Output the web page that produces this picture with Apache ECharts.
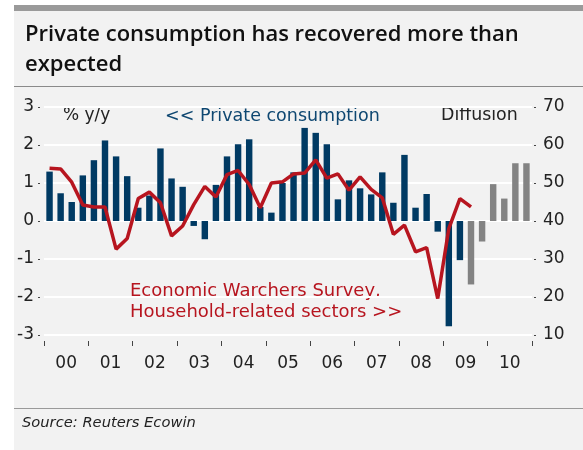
<!DOCTYPE html>
<html>
<head>
<meta charset="utf-8">
<script src="https://cdn.jsdelivr.net/npm/echarts@6/dist/echarts.min.js"></script>
<style>
  html, body { margin: 0; padding: 0; background: #fff; }
  #chart { width: 583px; height: 450px; }
</style>
</head>
<body>
<div id="chart"></div>
<script>
// quarters 2000Q1 .. 2010Q4
var quarters = [];
for (var y = 2000; y <= 2010; y++) {
  for (var q = 1; q <= 4; q++) quarters.push(y + 'Q' + q);
}
var yearLabels = ['00', '01', '02', '03', '04', '05', '06', '07', '08', '09', '10'];

// private consumption, % y/y (last six quarters are forecasts, grey)
var consumption = [
  1.30, 0.73, 0.50, 1.20, 1.60, 2.12, 1.70, 1.18,
  0.35, 0.67, 1.91, 1.12, 0.90, -0.13, -0.48, 0.95,
  1.70, 2.02, 2.15, 0.37, 0.22, 1.00, 1.28, 2.45,
  2.32, 2.02, 0.57, 1.07, 0.86, 0.70, 1.28, 0.48,
  1.74, 0.35, 0.71, -0.28, -2.77, -1.03, -1.67, -0.54,
  0.97, 0.59, 1.52, 1.52
];
var forecastFrom = 38;

// Economic Watchers Survey, household-related sectors (diffusion index)
var watchers = [
  53.9, 53.7, 50.2, 44.2, 43.7, 43.7, 32.6, 35.4,
  45.9, 47.6, 44.8, 36.1, 38.7, 44.3, 49.1, 46.3,
  52.2, 53.3, 49.6, 43.5, 50.0, 50.3, 52.4, 52.6,
  56.1, 51.3, 52.4, 48.1, 51.6, 48.3, 46.1, 36.5,
  38.9, 31.9, 33.0, 19.6, 38.0, 45.9, 43.7
];

var chart = echarts.init(document.getElementById('chart'));

var txt = '#222';
var fam = 'DejaVu Sans';
chart.setOption({
  animation: false,
  backgroundColor: '#fff',
  grid: { left: 44, right: 51, top: 107, bottom: 115 },
  xAxis: [
    {
      type: 'category',
      data: quarters,
      position: 'bottom',
      axisLine: { show: false },
      axisTick: { show: false },
      axisLabel: { show: false }
    },
    {
      type: 'category',
      data: yearLabels,
      position: 'bottom',
      offset: 6,
      boundaryGap: true,
      axisLine: { show: false },
      axisTick: { show: true, length: 5, lineStyle: { color: '#444', width: 1 } },
      axisLabel: { color: txt, fontSize: 17, fontFamily: fam, margin: 14 }
    }
  ],
  yAxis: [
    {
      type: 'value',
      min: -3, max: 3, interval: 1,
      position: 'left',
      offset: 4,
      axisLine: { show: false },
      axisTick: { show: true, length: 2, lineStyle: { color: '#444' } },
      axisLabel: { color: txt, fontSize: 17, fontFamily: fam, margin: 6 },
      splitLine: { lineStyle: { color: '#ffffff', width: 2 } }
    },
    {
      type: 'value',
      min: 10, max: 70, interval: 10,
      position: 'right',
      offset: 2,
      axisLine: { show: false },
      axisTick: { show: true, length: 2, lineStyle: { color: '#444' } },
      axisLabel: { color: txt, fontSize: 17, fontFamily: fam, margin: 9 },
      splitLine: { show: false }
    }
  ],
  series: [
    {
      type: 'bar',
      data: consumption,
      barWidth: '58%',
      itemStyle: {
        color: function (p) { return p.dataIndex >= forecastFrom ? '#838383' : '#003a63'; }
      }
    },
    {
      type: 'line',
      yAxisIndex: 1,
      data: watchers,
      symbol: 'none',
      lineStyle: { color: '#b7151f', width: 3.5 },
      z: 5
    }
  ],
  graphic: [
    { type: 'rect', z: -10, shape: { x: 14, y: 5, width: 569, height: 445 }, style: { fill: '#f2f2f2' } },
    { type: 'rect', z: -9, shape: { x: 14, y: 5, width: 569, height: 6 }, style: { fill: '#9a9a9a' } },
    { type: 'rect', z: -9, shape: { x: 14, y: 86, width: 569, height: 1 }, style: { fill: '#8a8a8a' } },
    { type: 'rect', z: -9, shape: { x: 14, y: 408, width: 569, height: 1 }, style: { fill: '#9a9a9a' } },
    { type: 'text', left: 25, top: 20, style: { text: 'Private consumption has recovered more than\nexpected', fill: '#111', font: '600 22px "Open Sans"', lineHeight: 30 } },
    { type: 'text', left: 63, top: 107, style: { text: '% y/y', fill: txt, font: '17px "DejaVu Sans"' } },
    { type: 'text', left: 165, top: 107, style: { text: '<< Private consumption', fill: '#0e4771', font: '17.5px "DejaVu Sans"' } },
    { type: 'text', left: 441, top: 107, style: { text: 'Diffusion', fill: txt, font: '17.4px "DejaVu Sans"' } },
    { type: 'text', left: 130, top: 281, style: { text: 'Economic Warchers Survey,\nHousehold-related sectors >>', fill: '#b7151f', font: '18px "DejaVu Sans"', lineHeight: 21 } },
    { type: 'text', left: 22, top: 416, style: { text: 'Source: Reuters Ecowin', fill: txt, font: 'italic 14.7px "DejaVu Sans"' } }
  ]
});
</script>
</body>
</html>
